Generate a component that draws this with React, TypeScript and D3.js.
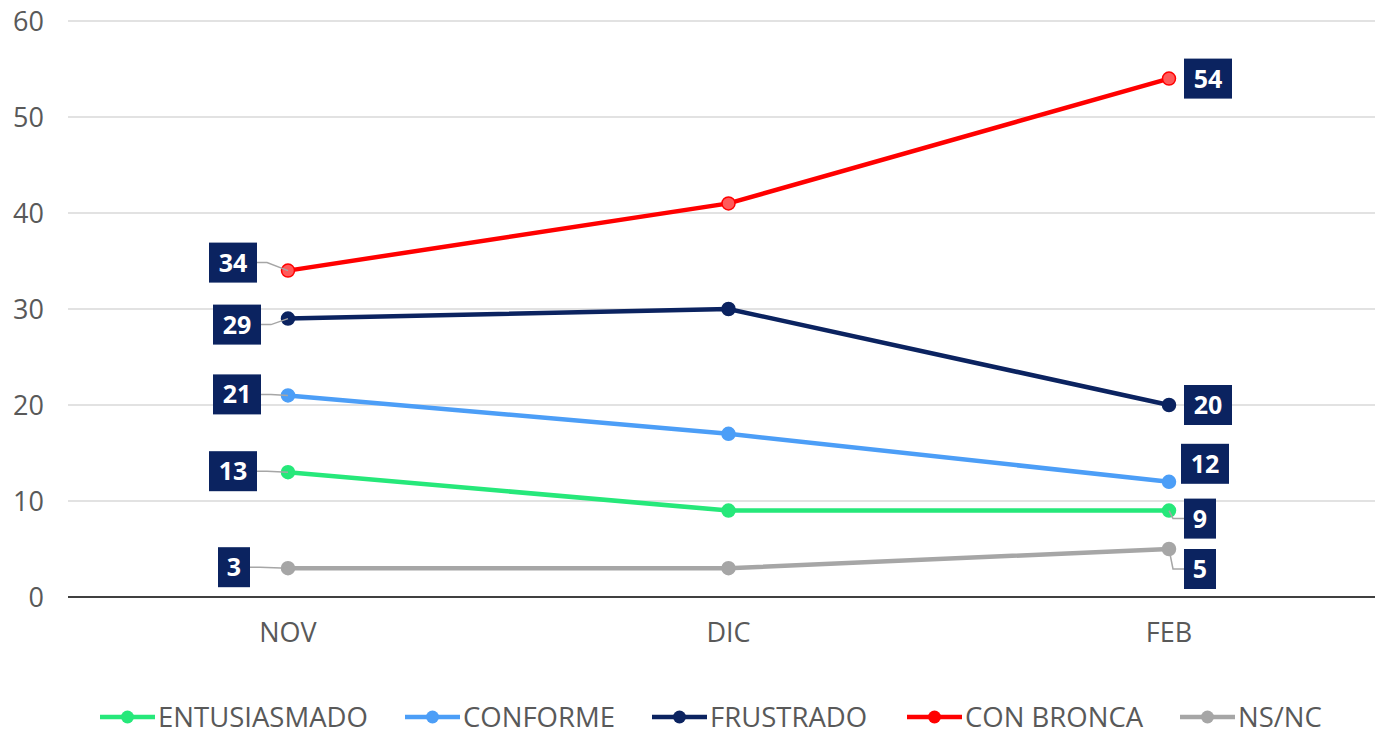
import React from "react";
import * as d3 from "d3";

const months = ["NOV", "DIC", "FEB"];
const seriesNames = ["ENTUSIASMADO", "CONFORME", "FRUSTRADO", "CON BRONCA", "NS/NC"];
const entusiasmado = [13, 9, 9];
const conforme = [21, 17, 12];
const frustrado = [29, 30, 20];
const conBronca = [34, 41, 54];
const nsnc = [3, 3, 5];
const yTicks = [0, 10, 20, 30, 40, 50, 60];

const seriesValues = [entusiasmado, conforme, frustrado, conBronca, nsnc];
const colors = ["#26E87A", "#4C9EF7", "#0B2360", "#FF0000", "#A6A6A6"];
const markerFill = ["#26E87A", "#4C9EF7", "#0B2360", "#FF5A5A", "#A6A6A6"];
const legendX = [100, 405, 652, 907, 1180];

// label offsets (dx, dy of box centre relative to point) for first and last point
const labelOffsets: Record<string, { nov: [number, number]; feb: [number, number] | null }> = {
  "ENTUSIASMADO": { nov: [-55, -1], feb: [31, 8] },
  "CONFORME": { nov: [-51, -1], feb: [36, -18] },
  "FRUSTRADO": { nov: [-51, 6], feb: [39, 0] },
  "CON BRONCA": { nov: [-55, -8], feb: [39, 0] },
  "NS/NC": { nov: [-54, -1], feb: [31, 20] },
};

const W = 1375;
const H = 735;
const x = d3.scalePoint<string>().domain(months).range([288, 1169]);
const y = d3.scaleLinear().domain([0, 60]).range([597, 21]);
const font = "'Open Sans', 'Noto Sans', sans-serif";
const navy = "#0B2360";
const textGray = "#595959";

function Label({ px, py, dx, dy, value, side }: { px: number; py: number; dx: number; dy: number; value: number; side: "left" | "right" }) {
  const txt = String(value);
  const bw = txt.length > 1 ? 48 : 32;
  const bh = 40;
  const cx = px + dx;
  const cy = py + dy;
  let conn = "";
  if (side === "left") {
    const ex = cx + bw / 2;
    conn = `M${ex},${cy}L${ex + 10},${cy}L${px},${py}`;
  } else {
    const ex = cx - bw / 2;
    if (dy > 5) {
      conn = `M${px},${py}L${px + 4},${cy}L${ex},${cy}`;
    }
  }
  return (
    <g>
      {conn && <path d={conn} fill="none" stroke="#A6A6A6" strokeWidth={1.5} />}
      <rect x={cx - bw / 2} y={cy - bh / 2} width={bw} height={bh} fill={navy} />
      <text x={cx} y={cy} dy="0.36em" textAnchor="middle" fill="#fff" fontSize={25} fontWeight={700} fontFamily={font}>
        {txt}
      </text>
    </g>
  );
}

export default function App() {
  const line = d3
    .line<number>()
    .x((_, i) => x(months[i]) as number)
    .y((d) => y(d));
  return (
    <svg width={W} height={H} style={{ position: "absolute", left: 0, top: 0, background: "#fff" }}>
      {yTicks.map((t) => (
        <g key={t}>
          {t !== 0 && <line x1={68} x2={W} y1={y(t)} y2={y(t)} stroke="#D9D9D9" strokeWidth={1.5} />}
          <text x={44} y={y(t)} dy="0.36em" textAnchor="end" fontSize={27} fill={textGray} fontFamily={font}>
            {t}
          </text>
        </g>
      ))}
      <line x1={68} x2={W} y1={y(0)} y2={y(0)} stroke="#000" strokeWidth={1.5} />
      {months.map((m) => (
        <text key={m} x={x(m)} y={642} textAnchor="middle" fontSize={27} fill={textGray} fontFamily={font}>
          {m}
        </text>
      ))}
      {seriesValues.map((vals, si) => (
        <g key={si}>
          <path d={line(vals) || ""} fill="none" stroke={colors[si]} strokeWidth={4.5} />
          {vals.map((v, i) => (
            <circle key={i} cx={x(months[i])} cy={y(v)} r={6.5} fill={markerFill[si]} stroke={colors[si]} strokeWidth={1.5} />
          ))}
        </g>
      ))}
      {seriesValues.map((vals, si) => {
        const off = labelOffsets[seriesNames[si]];
        const last = vals.length - 1;
        return (
          <g key={"l" + si}>
            <Label px={x(months[0]) as number} py={y(vals[0])} dx={off.nov[0]} dy={off.nov[1]} value={vals[0]} side="left" />
            {off.feb && (
              <Label px={x(months[last]) as number} py={y(vals[last])} dx={off.feb[0]} dy={off.feb[1]} value={vals[last]} side="right" />
            )}
          </g>
        );
      })}
      {seriesNames.map((n, si) => (
        <g key={n} transform={`translate(${legendX[si]},717)`}>
          <line x1={0} x2={55} y1={0} y2={0} stroke={colors[si]} strokeWidth={4.5} />
          <circle cx={27.5} cy={0} r={6.5} fill={colors[si]} />
          <text x={58} y={0} dy="0.35em" fontSize={27.5} fill={textGray} fontFamily={font}>
            {n}
          </text>
        </g>
      ))}
    </svg>
  );
}
